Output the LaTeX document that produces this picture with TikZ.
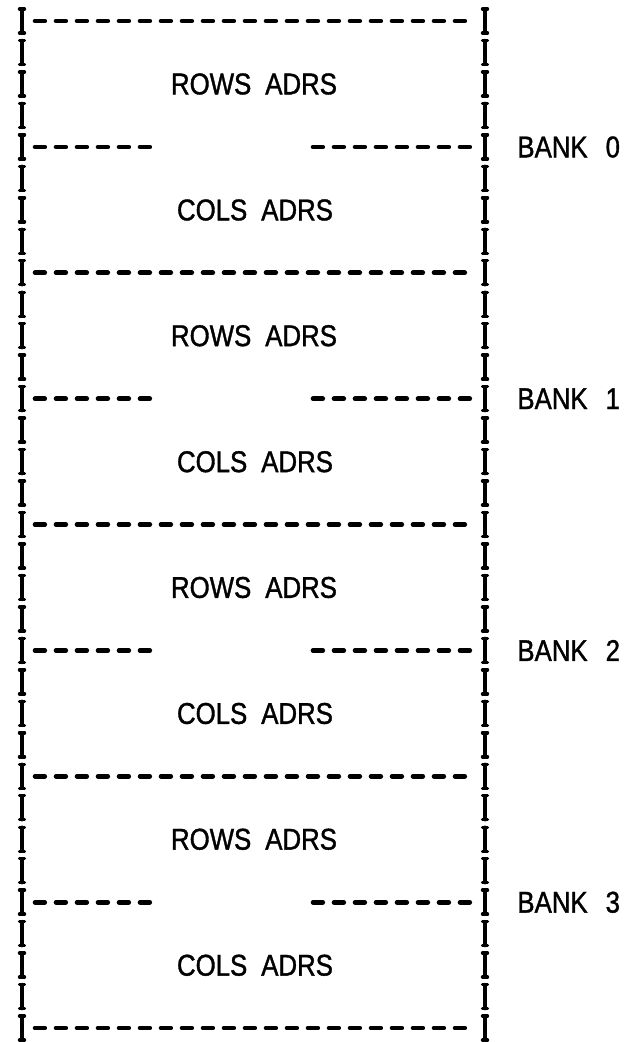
\documentclass[tikz,border=0pt]{standalone}
\usepackage{fontspec}
\setmainfont{Liberation Sans}[FakeStretch=0.86, FakeBold=1.2]
\newcommand{\wsp}{\hspace{7pt}}
\begin{document}
\begin{tikzpicture}
[x=0.5pt, y=-0.5pt, font=\fontsize{15}{18}\selectfont]
\tikzstyle{rule}=[line width=2.3pt, line cap=round, dash pattern=on 4.9pt off 5.6pt]
\tikzstyle{bar}=[line width=1.7pt, line cap=round]
\tikzstyle{field}=[inner sep=0pt]
\useasboundingbox (0,0) rectangle (634,1042);

% I columns on both sides
\foreach \r in {0,...,32} {
  \pgfmathsetmacro{\yr}{21+31.47*\r}
  \foreach \xc in {22,485} {
    \draw[bar] (\xc-2.5,\yr-12) -- (\xc+2.5,\yr-12) (\xc,\yr-12) -- (\xc,\yr+12) (\xc-2.5,\yr+12) -- (\xc+2.5,\yr+12);
  }
}

% bank separators
\foreach \k in {0,...,4} {
  \pgfmathsetmacro{\ysep}{21+251.75*\k}
  \coordinate (sepL\k) at (35,\ysep);
  \coordinate (sepR\k) at (473,\ysep);
  \draw[rule] (sepL\k) -- (sepR\k);
}

% rows / cols halves
\foreach \k in {0,...,3} {
  \pgfmathsetmacro{\ymid}{147+251.75*\k}
  \coordinate (midA\k) at (35,\ymid);
  \coordinate (midB\k) at (150,\ymid);
  \coordinate (midC\k) at (313,\ymid);
  \coordinate (midD\k) at (470,\ymid);
  \draw[rule] (midA\k) -- (midB\k);
  \draw[rule] (midC\k) -- (midD\k);
  \node[field] (rows\k) at (254,\ymid-63) {ROWS\wsp ADRS};
  \node[field] (cols\k) at (255,\ymid+63) {COLS\wsp ADRS};
  \node[field, anchor=west] (bank\k) at (517,\ymid) {BANK\hspace{9pt}\k};
}

\end{tikzpicture}
\end{document}
